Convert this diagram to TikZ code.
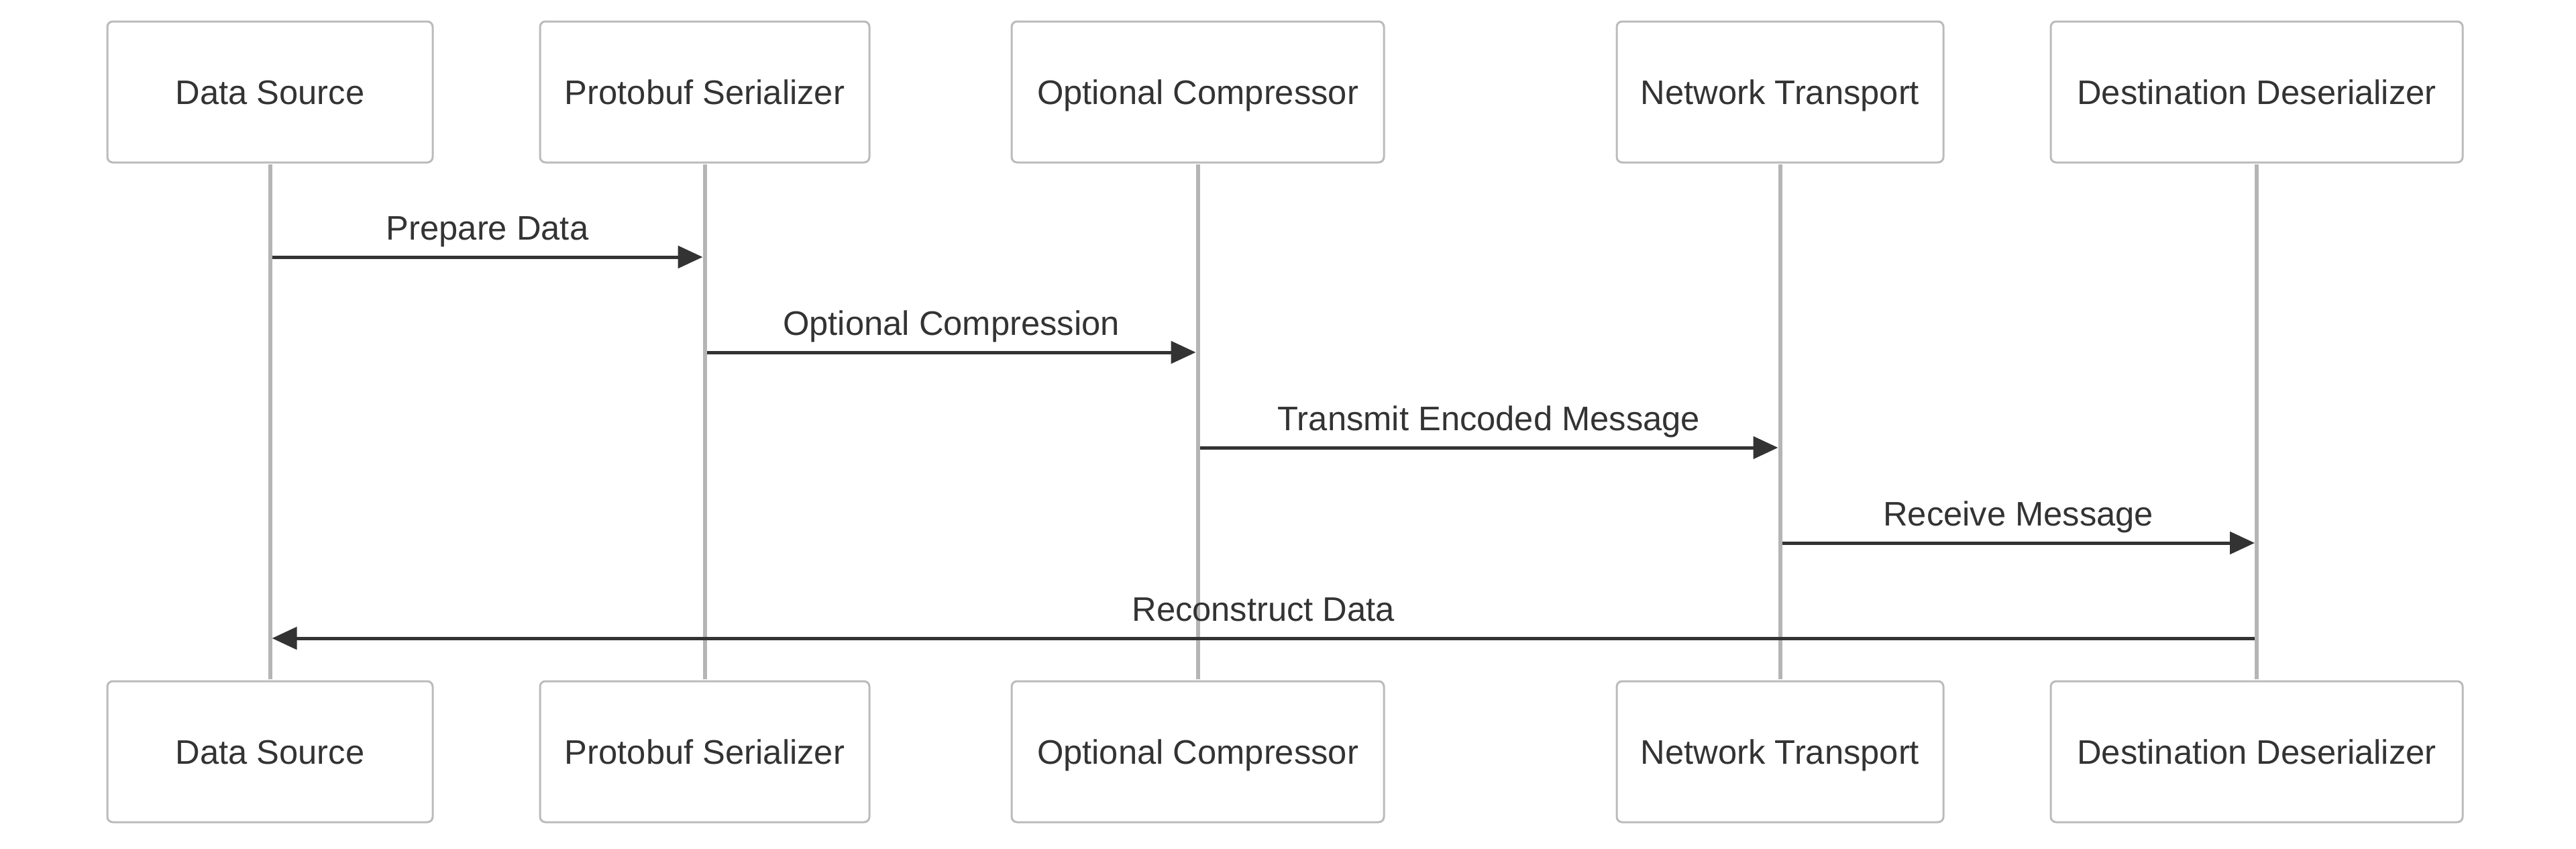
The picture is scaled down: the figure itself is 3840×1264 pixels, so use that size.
\documentclass[tikz,border=0pt]{standalone}
\usepackage{fontspec}
\setmainfont{Liberation Sans}
\usetikzlibrary{arrows.meta}
\definecolor{boxline}{HTML}{BBBBBB}
\definecolor{lifecol}{HTML}{B5B5B5}
\definecolor{ink}{HTML}{333333}
\tikzset{
  actor/.style={draw=boxline, line width=3pt, fill=white, rounded corners=8pt,
    minimum height=210pt, inner sep=0pt, text=ink, text height=36.3pt, text depth=0pt,
    font=\fontsize{50.7}{60}\selectfont},
  life/.style={draw=lifecol, line width=6pt},
  msg/.style={draw=ink, line width=5pt, -{Triangle[length=37pt,width=33pt]},
    shorten >=3pt, shorten <=3pt},
  msglabel/.style={font=\fontsize{50.7}{60}\selectfont, text=ink, anchor=base, yshift=26pt}
}
\begin{document}
\begin{tikzpicture}[x=1pt,y=-1pt]
\useasboundingbox (0,0) rectangle (3840,1264);
\fill[white] (0,0) rectangle (3840,1264);
% top actors
\node[actor, minimum width=485pt] (t1) at (402.5,137) {Data Source};
\node[actor, minimum width=491pt] (t2) at (1050.5,137) {Protobuf Serializer};
\node[actor, minimum width=555pt] (t3) at (1785.5,137) {Optional Compressor};
\node[actor, minimum width=487pt] (t4) at (2653.5,137) {Network Transport};
\node[actor, minimum width=614pt] (t5) at (3364,137) {Destination Deserializer};
% bottom actors
\node[actor, minimum width=485pt] (b1) at (402.5,1120) {Data Source};
\node[actor, minimum width=491pt] (b2) at (1050.5,1120) {Protobuf Serializer};
\node[actor, minimum width=555pt] (b3) at (1785.5,1120) {Optional Compressor};
\node[actor, minimum width=487pt] (b4) at (2653.5,1120) {Network Transport};
\node[actor, minimum width=614pt] (b5) at (3364,1120) {Destination Deserializer};
% lifelines
\foreach \i in {1,...,5} {
  \draw[life] ([yshift=-1.5pt]t\i.south) -- ([yshift=1.5pt]b\i.north);
}
% message rows
\coordinate (y1) at (0,383);
\coordinate (y2) at (0,525);
\coordinate (y3) at (0,667);
\coordinate (y4) at (0,809);
\coordinate (y5) at (0,951);
\draw[msg] (t1.south |- y1) -- node[msglabel] {Prepare Data} (t2.south |- y1);
\draw[msg] (t2.south |- y2) -- node[msglabel] {Optional Compression} (t3.south |- y2);
\draw[msg] (t3.south |- y3) -- node[msglabel] {Transmit Encoded Message} (t4.south |- y3);
\draw[msg] (t4.south |- y4) -- node[msglabel] {Receive Message} (t5.south |- y4);
\draw[msg] (t5.south |- y5) -- node[msglabel] {Reconstruct Data} (t1.south |- y5);
\end{tikzpicture}
\end{document}
